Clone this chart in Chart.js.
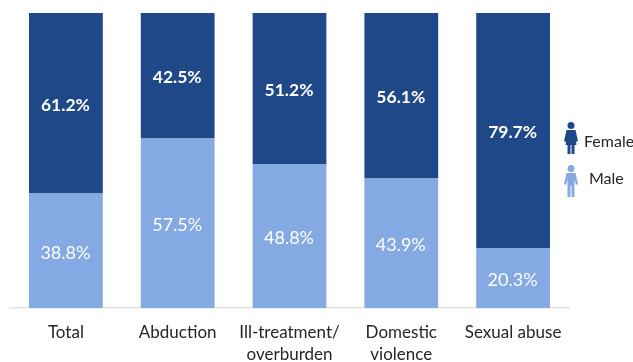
<!DOCTYPE html>
<html>
<head>
<meta charset="utf-8">
<style>
    html, body { margin: 0; padding: 0; background: #fff; }
    #wrap { position: relative; width: 633px; height: 362px; }
</style>
<script src="https://cdn.jsdelivr.net/npm/chart.js@4"></script>
</head>
<body>
<div id="wrap"><canvas id="chart"></canvas></div>
<script>
const categories = ['Total', 'Abduction', ['Ill-treatment/', 'overburden'], ['Domestic', 'violence'], 'Sexual abuse'];
const maleValues = [38.8, 57.5, 48.8, 43.9, 20.3];
const femaleValues = [61.2, 42.5, 51.2, 56.1, 79.7];

const darkBlue = '#1F4888';
const lightBlue = '#85A9E3';
const fontFamily = 'Lato, "Open Sans", sans-serif';

// Percentage labels in the middle of each segment
const segmentLabels = {
    id: 'segmentLabels',
    afterDatasetsDraw(chart) {
        const ctx = chart.ctx;
        ctx.save();
        ctx.textAlign = 'center';
        ctx.textBaseline = 'middle';
        ctx.fillStyle = '#ffffff';
        chart.data.datasets.forEach((dataset, i) => {
            ctx.font = (dataset.label === 'Female' ? 'bold 17.5px ' : '18px ') + fontFamily;
            chart.getDatasetMeta(i).data.forEach((bar, j) => {
                const mid = (bar.y + bar.base) / 2;
                ctx.fillText(dataset.data[j].toFixed(1) + '%', bar.x - 0.5, mid + 2);
            });
        });
        ctx.restore();
    }
};

// Small person icons with their labels, right of the bars
function drawFemaleIcon(ctx, x, y) {
    ctx.fillStyle = darkBlue;
    ctx.beginPath();
    ctx.arc(x, y + 3.5, 3.5, 0, Math.PI * 2);
    ctx.fill();
    ctx.beginPath();
    ctx.moveTo(x - 4.5, y + 8);
    ctx.lineTo(x + 4.5, y + 8);
    ctx.lineTo(x + 7, y + 19);
    ctx.lineTo(x + 5, y + 20);
    ctx.lineTo(x + 5.5, y + 23);
    ctx.lineTo(x + 3.5, y + 23);
    ctx.lineTo(x + 3.5, y + 32);
    ctx.lineTo(x + 0.5, y + 32);
    ctx.lineTo(x + 0.5, y + 23);
    ctx.lineTo(x - 0.5, y + 23);
    ctx.lineTo(x - 0.5, y + 32);
    ctx.lineTo(x - 3.5, y + 32);
    ctx.lineTo(x - 3.5, y + 23);
    ctx.lineTo(x - 5.5, y + 23);
    ctx.lineTo(x - 5, y + 20);
    ctx.lineTo(x - 7, y + 19);
    ctx.closePath();
    ctx.fill();
}

function drawMaleIcon(ctx, x, y) {
    ctx.fillStyle = lightBlue;
    ctx.beginPath();
    ctx.arc(x, y + 3.5, 3.5, 0, Math.PI * 2);
    ctx.fill();
    ctx.beginPath();
    ctx.moveTo(x - 4.5, y + 8);
    ctx.lineTo(x + 4.5, y + 8);
    ctx.lineTo(x + 7, y + 19);
    ctx.lineTo(x + 5, y + 20);
    ctx.lineTo(x + 3.5, y + 14);
    ctx.lineTo(x + 3.5, y + 32);
    ctx.lineTo(x + 0.5, y + 32);
    ctx.lineTo(x + 0.5, y + 21);
    ctx.lineTo(x - 0.5, y + 21);
    ctx.lineTo(x - 0.5, y + 32);
    ctx.lineTo(x - 3.5, y + 32);
    ctx.lineTo(x - 3.5, y + 14);
    ctx.lineTo(x - 5, y + 20);
    ctx.lineTo(x - 7, y + 19);
    ctx.closePath();
    ctx.fill();
}

const personLegend = {
    id: 'personLegend',
    afterDraw(chart) {
        const ctx = chart.ctx;
        ctx.save();
        drawFemaleIcon(ctx, 571, 122);
        drawMaleIcon(ctx, 571, 165);
        ctx.fillStyle = '#262626';
        ctx.font = '16px ' + fontFamily;
        ctx.textAlign = 'left';
        ctx.textBaseline = 'middle';
        ctx.fillText('Female', 584, 142);
        ctx.fillText('Male', 589, 179);
        ctx.restore();
    }
};

new Chart(document.getElementById('chart'), {
    type: 'bar',
    data: {
        labels: categories,
        datasets: [
            { label: 'Male', data: maleValues, backgroundColor: lightBlue, stack: 'a' },
            { label: 'Female', data: femaleValues, backgroundColor: darkBlue, stack: 'a' }
        ]
    },
    options: {
        responsive: true,
        maintainAspectRatio: false,
        animation: false,
        layout: { padding: { left: 10, right: 64, top: 13, bottom: 0 } },
        datasets: { bar: { categoryPercentage: 1, barPercentage: 0.66 } },
        scales: {
            x: {
                stacked: true,
                afterFit(scale) { scale.height = 54; },
                grid: { display: false },
                border: { color: '#E3E3E3', width: 1.5 },
                ticks: {
                    color: '#262626',
                    font: { family: fontFamily, size: 17, lineHeight: 1.3 },
                    maxRotation: 0,
                    autoSkip: false,
                    padding: 5
                }
            },
            y: {
                display: false,
                stacked: true,
                min: 0,
                max: 100
            }
        },
        plugins: {
            legend: { display: false },
            tooltip: { enabled: false }
        }
    },
    plugins: [segmentLabels, personLegend]
});
</script>
</body>
</html>
